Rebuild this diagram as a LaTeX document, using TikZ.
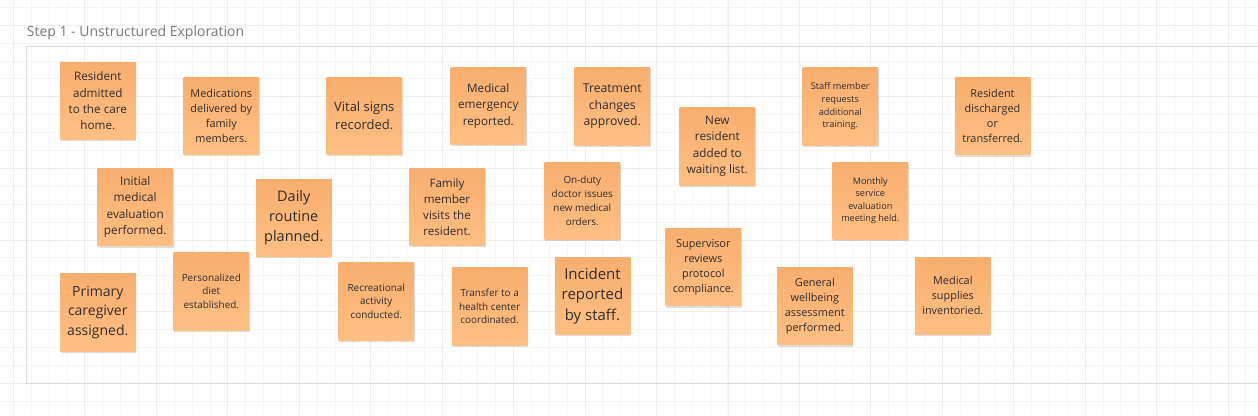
\documentclass[tikz,border=0pt]{standalone}
\usepackage{fontspec}
\setmainfont{Open Sans}
\usetikzlibrary{shadows}
\definecolor{stickytop}{HTML}{F9AE6E}
\definecolor{stickybot}{HTML}{FFBF83}
\definecolor{inktext}{HTML}{2E2E2E}
\definecolor{gridmajor}{HTML}{EEEEEE}
\definecolor{gridminor}{HTML}{F6F6F6}
\definecolor{framegray}{HTML}{DCDCDC}
\definecolor{titlegray}{HTML}{787878}

\begin{document}
\begin{tikzpicture}[x=1pt,y=-1pt]
\tikzstyle{sticky}=[rectangle, minimum width=75.5pt, minimum height=77.5pt, inner sep=0pt, top color=stickytop, bottom color=stickybot, text=inktext, align=center, drop shadow={shadow xshift=0.8pt, shadow yshift=-1.8pt, opacity=0.13, fill=black}]
\tikzstyle{minorline}=[gridminor, line width=0.9pt]
\tikzstyle{majorline}=[gridmajor, line width=1pt]
\tikzset{sz/.style 2 args={font=\fontsize{#1}{#2}\selectfont}}
\useasboundingbox[fill=white] (0,0) rectangle (1258,415);
  % board grid
  \foreach \k in {-1,...,70}
    \draw[minorline] (13.5+17.86*\k,0) -- (13.5+17.86*\k,415);
  \foreach \k in {-2,...,22}
    \draw[minorline] (0,25.2+17.9*\k) -- (1258,25.2+17.9*\k);
  \foreach \k in {0,...,17}
    \draw[majorline] (13.5+71.45*\k,0) -- (13.5+71.45*\k,415);
  \foreach \k in {0,...,5}
    \draw[majorline] (0,25.2+71.6*\k) -- (1258,25.2+71.6*\k);
  % frame
  \draw[framegray, line width=1pt] (26.7,46.7) rectangle (1300,383);
  \node[anchor=base west, inner sep=0pt, text=titlegray, sz={14}{17}] (title) at (26.7,36.7) {Step 1 - Unstructured Exploration};
  % sticky notes
  \node[sticky, sz={11.7}{16.2}] (s1) at (97.8,100.8) {Resident\\admitted\\to the care\\home.};
  \node[sticky, sz={10.9}{15}] (s2) at (221.3,115.8) {Medications\\delivered by\\family\\members.};
  \node[sticky, sz={13}{18}] (s3) at (364.3,115.8) {Vital signs\\recorded.};
  \node[sticky, sz={11.8}{16.3}] (s4) at (135.2,207) {Initial\\medical\\evaluation\\performed.};
  \node[sticky, sz={14.5}{20}] (s5) at (293.8,217.8) {Daily\\routine\\planned.};
  \node[sticky, sz={14}{19.3}] (s6) at (97.8,312.3) {Primary\\caregiver\\assigned.};
  \node[sticky, sz={9.9}{13.7}] (s7) at (211.3,291.3) {Personalized\\diet\\established.};
  \node[sticky, sz={9.9}{13.7}] (s8) at (376.3,301.3) {Recreational\\activity\\conducted.};
  \node[sticky, sz={11.7}{16.2}] (s9) at (488.3,105.8) {Medical\\emergency\\reported.};
  \node[sticky, sz={12.2}{16.8}] (s10) at (612.3,106.3) {Treatment\\changes\\approved.};
  \node[sticky, sz={11.7}{16.2}] (s11) at (717.3,146.3) {New\\resident\\added to\\waiting list.};
  \node[sticky, sz={11.6}{16}] (s12) at (447,206.8) {Family\\member\\visits the\\resident.};
  \node[sticky, sz={9.9}{13.7}] (s13) at (582.3,200.8) {On-duty\\doctor issues\\new medical\\orders.};
  \node[sticky, sz={10.9}{15}] (s14) at (703.3,267) {Supervisor\\reviews\\protocol\\compliance.};
  \node[sticky, sz={9.9}{13.6}] (s15) at (489.7,306.5) {Transfer to a\\health center\\coordinated.};
  \node[sticky, sz={15}{20.7}] (s16) at (592.5,295.8) {Incident\\reported\\by staff.};
  \node[sticky, sz={10.9}{15}] (s17) at (814.8,306) {General\\wellbeing\\assessment\\performed.};
  \node[sticky, sz={9.2}{12.7}] (s18) at (840.3,106.3) {Staff member\\requests\\additional\\training.};
  \node[sticky, sz={10.9}{15}] (s19) at (992.5,116) {Resident\\discharged\\or\\transferred.};
  \node[sticky, sz={9.1}{12.5}] (s20) at (870.3,200.8) {Monthly\\service\\evaluation\\meeting held.};
  \node[sticky, sz={10.9}{15}] (s21) at (952.8,295.8) {Medical\\supplies\\inventoried.};
\end{tikzpicture}
\end{document}
